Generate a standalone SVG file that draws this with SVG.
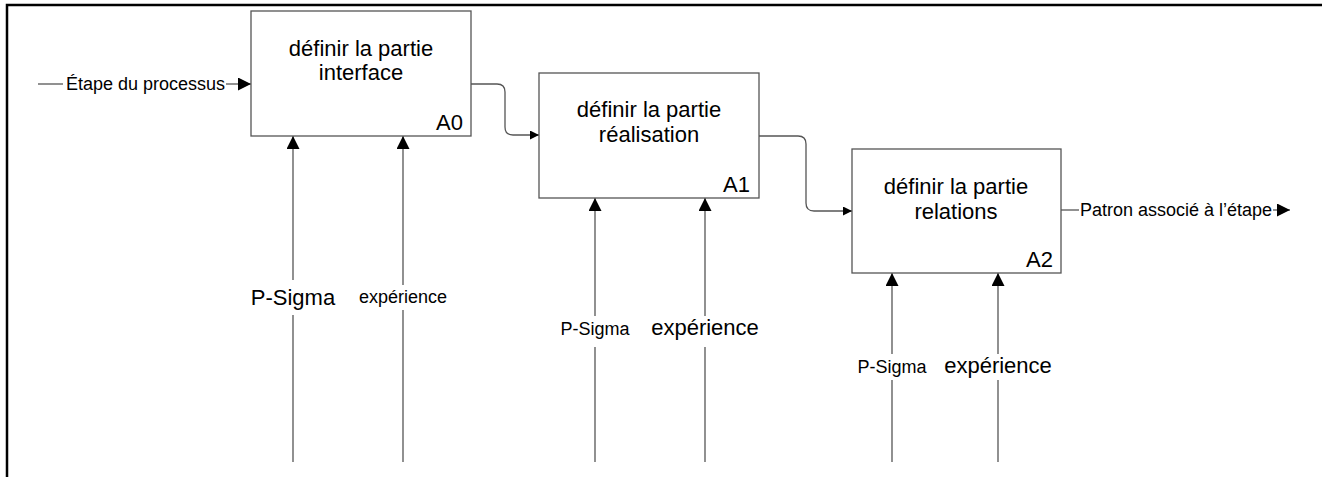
<svg xmlns="http://www.w3.org/2000/svg" width="1322" height="477" viewBox="0 0 1322 477">
<style>
.box{fill:#fff;stroke:#555;stroke-width:1.3}
.ln{fill:none;stroke:#555;stroke-width:1.3}
.t{font-family:"Liberation Sans",Arial,sans-serif;fill:#000}
.ttl{font-size:22px;text-anchor:middle}
.id{font-size:22px;text-anchor:end}
.sm{font-size:18px}
.lg{font-size:22px}
.mid{text-anchor:middle}
</style>
<defs>
<marker id="ab" markerUnits="userSpaceOnUse" markerWidth="13" markerHeight="13" viewBox="0 0 13 13" refX="13" refY="6.5" orient="auto"><path d="M0,0 L13,6.5 L0,13 Z" fill="#000"/></marker>
<marker id="as" markerUnits="userSpaceOnUse" markerWidth="9" markerHeight="9" viewBox="0 0 9 9" refX="9" refY="4.5" orient="auto"><path d="M0,0 L9,4.5 L0,9 Z" fill="#000"/></marker>
</defs>
<g id="frame"><path d="M7,477 V5 H1322" fill="none" stroke="#000" stroke-width="2.5"/></g>
<g id="connectors">
<path class="ln" d="M38,84 H63"/>
<path class="ln" d="M226,84 H251" marker-end="url(#ab)"/>
<path class="ln" d="M471,84 H497 Q505,84 505,92 V127 Q505,135 513,135 H539" marker-end="url(#as)"/>
<path class="ln" d="M759,136 H798 Q806,136 806,144 V203 Q806,211 814,211 H852" marker-end="url(#as)"/>
<path class="ln" d="M1061,210 H1079"/>
<path class="ln" d="M1273,210 H1290" marker-end="url(#ab)"/>
<path class="ln" d="M293,462 V315"/><path class="ln" d="M293,280 V136" marker-end="url(#ab)"/>
<path class="ln" d="M403,462 V310"/><path class="ln" d="M403,285 V136" marker-end="url(#ab)"/>
<path class="ln" d="M595,462 V347"/><path class="ln" d="M595,316 V198" marker-end="url(#ab)"/>
<path class="ln" d="M705,462 V347"/><path class="ln" d="M705,316 V198" marker-end="url(#ab)"/>
<path class="ln" d="M892,462 V380"/><path class="ln" d="M892,354 V273" marker-end="url(#ab)"/>
<path class="ln" d="M998,462 V380"/><path class="ln" d="M998,354 V273" marker-end="url(#ab)"/>
<text class="t sm" x="66" y="90">Étape du processus</text>
<text class="t sm" x="1080" y="216">Patron associé à l’étape</text>
<text class="t lg mid" x="293" y="305">P-Sigma</text>
<text class="t sm mid" x="403" y="303">expérience</text>
<text class="t sm mid" x="595" y="335">P-Sigma</text>
<text class="t lg mid" x="705" y="335">expérience</text>
<text class="t sm mid" x="892" y="373">P-Sigma</text>
<text class="t lg mid" x="998" y="373">expérience</text>
</g>
<g id="A0">
<rect class="box" x="251" y="11" width="220" height="125"/>
<text class="t ttl" x="361" y="56">définir la partie</text>
<text class="t ttl" x="361" y="80">interface</text>
<text class="t id" x="463" y="130">A0</text>
</g>
<g id="A1">
<rect class="box" x="539" y="73" width="220" height="125"/>
<text class="t ttl" x="649" y="117">définir la partie</text>
<text class="t ttl" x="649" y="142">réalisation</text>
<text class="t id" x="750" y="192">A1</text>
</g>
<g id="A2">
<rect class="box" x="852" y="149" width="209" height="124"/>
<text class="t ttl" x="956" y="194">définir la partie</text>
<text class="t ttl" x="956" y="219">relations</text>
<text class="t id" x="1053" y="267">A2</text>
</g>
</svg>
